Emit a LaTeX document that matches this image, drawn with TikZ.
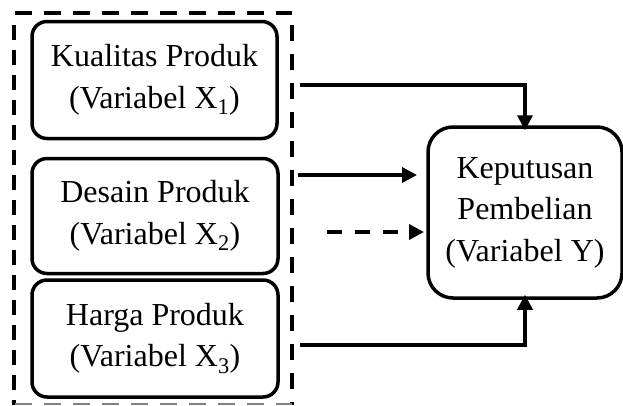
\documentclass[tikz,border=0pt]{standalone}
\usepackage{fontspec}
\setmainfont{Liberation Serif}
\usetikzlibrary{arrows.meta}
\begin{document}
\begin{tikzpicture}[x=1pt,y=-1pt,
  varbox/.style={draw,line width=3.5pt,rounded corners=15pt,align=center,
    inner sep=0pt,font=\fontsize{32}{41.5}\selectfont},
  grpline/.style={line width=4pt},
  arr/.style={line width=3.5pt,-{Triangle[length=15pt,width=15pt]}},
  dasharr/.style={arr,dash pattern=on 15pt off 13pt}]
\useasboundingbox (0,0) rectangle (623,405);

% independent variables
\node[varbox,minimum width=245pt,minimum height=117pt] (x1) at (154.5,80)
  {Kualitas Produk\\(Variabel X\textsubscript{1})};
\node[varbox,minimum width=246pt,minimum height=115pt] (x2) at (155,216)
  {Desain Produk\\(Variabel X\textsubscript{2})};
\node[varbox,minimum width=246pt,minimum height=117pt] (x3) at (155,338.5)
  {Harga Produk\\(Variabel X\textsubscript{3})};

% dependent variable
\node[varbox,rounded corners=25pt,minimum width=194pt,minimum height=171pt] (y) at (525,212.5)
  {Keputusan\\Pembelian\\(Variabel Y)};

% dashed frame round the independent variables
\draw[grpline,dash pattern=on 17pt off 12pt] (15,13) -- (292,13);
\draw[grpline,dash pattern=on 15pt off 10pt] (14,25) -- (14,405);
\draw[grpline,dash pattern=on 16pt off 13pt] (292,25) -- (292,405);
\draw[line width=2pt,gray,dash pattern=on 17pt off 12pt] (15,404) -- (292,404);

% connectors
\coordinate (a1) at (300,85);
\coordinate (a2) at (298,175);
\coordinate (a2e) at (417,175);
\coordinate (a3) at (327,232);
\coordinate (a3e) at (424,232);
\coordinate (a4) at (300,345);

\draw[arr] (a1) -| ([yshift=-5pt]y.north);
\draw[arr] (a2) -- (a2e);
\draw[dasharr] (a3) -- (a3e);
\draw[arr] (a4) -| ([yshift=5pt]y.south);
\end{tikzpicture}
\end{document}
